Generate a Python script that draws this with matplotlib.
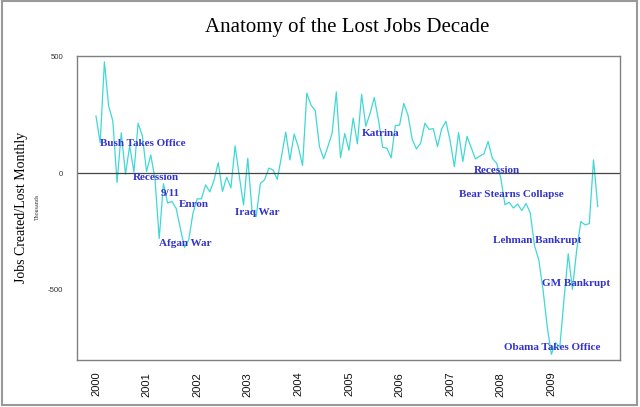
import numpy as np
import matplotlib
matplotlib.use('Agg')
from matplotlib import pyplot as plt
from matplotlib.patches import Rectangle

# monthly change in payrolls, thousands (Jan 2000 .. Dec 2009)
jobs_2000 = [245, 130, 477, 288, 224, -40, 173, -4, 118, 5, 214, 160]
jobs_2001 = [7, 78, -25, -280, -45, -128, -121, -150, -235, -318, -285, -172]
jobs_2002 = [-110, -110, -50, -80, -30, 45, -78, -17, -63, 117, -14, -136]
jobs_2003 = [64, -157, -185, -43, -28, 22, 14, -26, 71, 176, 57, 168]
jobs_2004 = [112, 33, 343, 292, 268, 114, 62, 114, 171, 348, 66, 170]
jobs_2005 = [98, 236, 126, 338, 201, 256, 324, 228, 111, 107, 66, 204]
jobs_2006 = [206, 299, 249, 145, 104, 128, 214, 188, 191, 114, 191, 222]
jobs_2007 = [138, 28, 174, 50, 158, 109, 61, 73, 83, 136, 64, 43]
jobs_2008 = [-20, -135, -125, -149, -132, -160, -130, -170, -310, -370, -495, -655]
jobs_2009 = [-776, -726, -745, -541, -345, -498, -330, -207, -221, -216, 57, -143]

jobs = (jobs_2000 + jobs_2001 + jobs_2002 + jobs_2003 + jobs_2004 +
        jobs_2005 + jobs_2006 + jobs_2007 + jobs_2008 + jobs_2009)
months = 2000 + np.arange(len(jobs)) / 12.0

years = list(range(2000, 2010))

# event labels (left edge in years, vertical position in thousands)
events = ['Bush Takes Office', 'Recession', '9/11', 'Enron', 'Afgan War',
          'Iraq War', 'Katrina', 'Recession', 'Bear Stearns Collapse',
          'Lehman Bankrupt', 'GM Bankrupt', 'Obama Takes Office']
event_x = [2000.08, 2000.73, 2001.28, 2001.64, 2001.25, 2002.75,
           2005.25, 2007.47, 2007.17, 2007.85, 2008.81, 2008.06]
event_y = [128, -19, -88, -134, -299, -168, 171, 10, -93, -288, -473, -747]

fig = plt.figure(figsize=(6.4, 4.07), dpi=100)
ax = fig.add_axes([0.1203, 0.1155, 0.8484, 0.7469])

ax.plot(months, jobs, color='#40d8d4', lw=0.9)
ax.axhline(0, color='#444444', lw=0.9)

for name, ex, ey in zip(events, event_x, event_y):
    ax.text(ex, ey, name, color='#3333cc', fontsize=8, fontweight='bold',
            family='Liberation Serif', ha='left', va='center')

ax.set_xlim(1999.625, 2010.356)
ax.set_ylim(-800, 502)
ax.set_yticks([500, 0, -500])
ax.set_yticklabels(['500', '0', '-500'], family='Liberation Sans',
                   fontsize=5.6, color='#333333')
ax.set_xticks(years)
ax.set_xticklabels([str(y) for y in years], rotation=90,
                   family='Liberation Sans', fontsize=8, color='#111111')
ax.tick_params(axis='y', length=0, pad=10)
ax.tick_params(axis='x', length=0, pad=8.5)
for s in ax.spines.values():
    s.set_color('#808080')
    s.set_linewidth(1.0)

fig.text(347 / 640, 1 - 27 / 407, 'Anatomy of the Lost Jobs Decade',
         family='Liberation Serif', fontsize=15, ha='center', va='center')
fig.text(22 / 640, 1 - 207 / 407, 'Jobs Created/Lost Monthly',
         family='Liberation Serif', fontsize=10, rotation=90,
         ha='center', va='center')
fig.text(37 / 640, 1 - 207 / 407, 'Thousands', family='Liberation Serif',
         fontsize=4.3, rotation=90, ha='center', va='center', color='#333333')

# outer frame around the whole picture
fig.patches.append(Rectangle((0.003, 0.005), 0.993, 0.992,
                             transform=fig.transFigure, fill=False,
                             edgecolor='#999999', lw=1.5))

fig.savefig('out.png', dpi=100)
